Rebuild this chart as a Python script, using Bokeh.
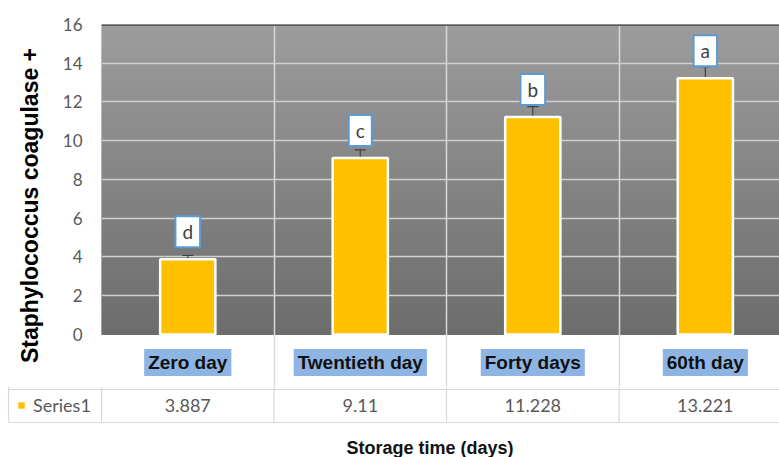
import numpy as np
from bokeh.plotting import figure
from bokeh.layouts import column
from bokeh.models import (Range1d, FixedTicker, Label, Whisker, TeeHead,
                          ColumnDataSource, Span, Legend, LegendItem)
from bokeh.core.properties import value
from bokeh.embed import file_html
from bokeh.resources import INLINE

# ---------------- data ----------------
categories = ["Zero day", "Twentieth day", "Forty days", "60th day"]
means = [3.887, 9.11, 11.228, 13.221]
errors = [0.19, 0.42, 0.53, 0.60]
letters = ["d", "c", "b", "a"]
y_ticks = [0, 2, 4, 6, 8, 10, 12, 14, 16]
series_name = "Series1"
x_title = "Storage time (days)"
y_title = "Staphylococcus coagulase +"

centers = [i + 0.5 for i in range(len(categories))]

BAR = "#FFC000"
GRID = "#d9d9d9"

# ---------------- main chart ----------------
p = figure(width=779, height=386,
           x_range=Range1d(0, 3.930), y_range=Range1d(-2.684, 16),
           x_axis_location=None,
           output_backend="svg", toolbar_location=None,
           min_border_left=101, min_border_right=0,
           min_border_top=24, min_border_bottom=0,
           background_fill_color="white", border_fill_color="white",
           outline_line_color=None, frame_align=False)

# gradient background of the plotting area (0..16)
n = 48
edges = np.linspace(y_ticks[0], y_ticks[-1], n + 1)
mids = (edges[:-1] + edges[1:]) / 2
lo, hi = 0x6c, 0x9d
cols = []
for m in mids:
    g = int(round(lo + (hi - lo) * (m - y_ticks[0]) / (y_ticks[-1] - y_ticks[0])))
    cols.append("#%02x%02x%02x" % (g, g, g))
p.quad(left=0, right=len(categories), bottom=edges[:-1], top=edges[1:],
       fill_color=cols, line_color=cols, line_width=1, level="image")

p.xgrid.ticker = FixedTicker(ticks=list(range(len(categories))))
p.xgrid.grid_line_color = GRID
p.xgrid.grid_line_width = 1.5
p.ygrid.ticker = FixedTicker(ticks=y_ticks[1:-1])
p.ygrid.grid_line_color = "#d0d0d0"
p.ygrid.grid_line_width = 1.5

p.add_layout(Span(location=y_ticks[-1], dimension="width",
                  line_color="#595959", line_width=3))

p.vbar(x=centers, top=means, width=0.32, fill_color=BAR,
       line_color="white", line_width=2.5)

wsrc = ColumnDataSource(dict(x=centers,
                             lower=[m - e for m, e in zip(means, errors)],
                             upper=[m + e for m, e in zip(means, errors)]))
p.add_layout(Whisker(source=wsrc, base="x", lower="lower", upper="upper",
                     line_color="#404040", line_width=1.2,
                     upper_head=TeeHead(size=11, line_color="#404040", line_width=1.2),
                     lower_head=TeeHead(size=11, line_color="#404040", line_width=1.2)))

for xc, m, t in zip(centers, means, letters):
    p.add_layout(Label(x=xc, y=m, y_offset=12, text=t,
                       text_align="center", text_baseline="bottom",
                       text_font="Lato", text_font_size="19px",
                       text_color="#404040",
                       background_fill_color="white",
                       border_line_color="#5B9BD5", border_line_width=2,
                       padding=dict(left=7, right=7, top=4, bottom=4)))

for xc, c in zip(centers, categories):
    p.add_layout(Label(x=xc, y=-1.445, text=c,
                       text_align="center", text_baseline="middle",
                       text_font="Liberation Sans", text_font_style="bold",
                       text_font_size="19px", text_color="#111111",
                       background_fill_color="#8EB4E3",
                       padding=dict(left=4, right=4, top=3, bottom=3)))

ax = p.yaxis[0]
ax.ticker = FixedTicker(ticks=y_ticks)
ax.axis_line_color = None
ax.major_tick_line_color = None
ax.major_tick_out = 0
ax.major_tick_in = 0
ax.minor_tick_line_color = None
ax.minor_tick_out = 0
ax.major_label_standoff = 19
ax.major_label_text_font = "Lato"
ax.major_label_text_font_size = "17px"
ax.major_label_text_color = "#595959"
ax.axis_label = y_title
ax.axis_label_text_font = "Liberation Sans"
ax.axis_label_text_font_style = "bold"
ax.axis_label_text_font_size = "23px"
ax.axis_label_text_color = "#000000"
ax.axis_label_standoff = 17

# ---------------- data table row + x title ----------------
q = figure(width=779, height=71,
           x_range=Range1d(-0.5855, 3.930), y_range=Range1d(-2.061, 0.091),
           x_axis_location=None, y_axis_location=None,
           output_backend="svg", toolbar_location=None,
           min_border_left=0, min_border_right=0,
           min_border_top=0, min_border_bottom=0,
           background_fill_color="white", border_fill_color="white",
           outline_line_color=None, frame_align=False)
q.xgrid.visible = False
q.ygrid.visible = False

q.segment(x0=[-0.539, -0.539], x1=[3.93, 3.93], y0=[0, -1], y1=[0, -1],
          line_color=GRID, line_width=1.2)
vx = [-0.539] + list(range(len(categories)))
q.segment(x0=vx, x1=vx, y0=[-1] * len(vx), y1=[0.091] * len(vx),
          line_color=GRID, line_width=1.2)

tsrc = ColumnDataSource(dict(x=centers, y=[-0.5] * len(centers),
                             t=["%g" % v for v in means]))
q.text(x="x", y="y", text="t", source=tsrc, text_font=value("Lato"),
       text_font_size="18px", text_color="#595959",
       text_align="center", text_baseline="middle")

r_leg = q.vbar(x=centers[:1], top=[0], bottom=[0], width=0.3,
               fill_color=BAR, line_color=None)
leg = Legend(items=[LegendItem(label=series_name, renderers=[r_leg])],
             location=(17, 41), padding=0, margin=0, spacing=0,
             glyph_width=8, glyph_height=8, label_standoff=8,
             label_text_font="Lato", label_text_font_size="18px",
             label_text_color="#595959",
             background_fill_alpha=0, border_line_color=None)
q.add_layout(leg)

q.add_layout(Label(x=1.904, y=-1.758, text=x_title,
                   text_align="center", text_baseline="middle",
                   text_font="Liberation Sans", text_font_style="bold",
                   text_font_size="18px", text_color="#111111"))

layout = column(p, q, spacing=0)
open("out.html", "w").write(file_html(layout, INLINE))
